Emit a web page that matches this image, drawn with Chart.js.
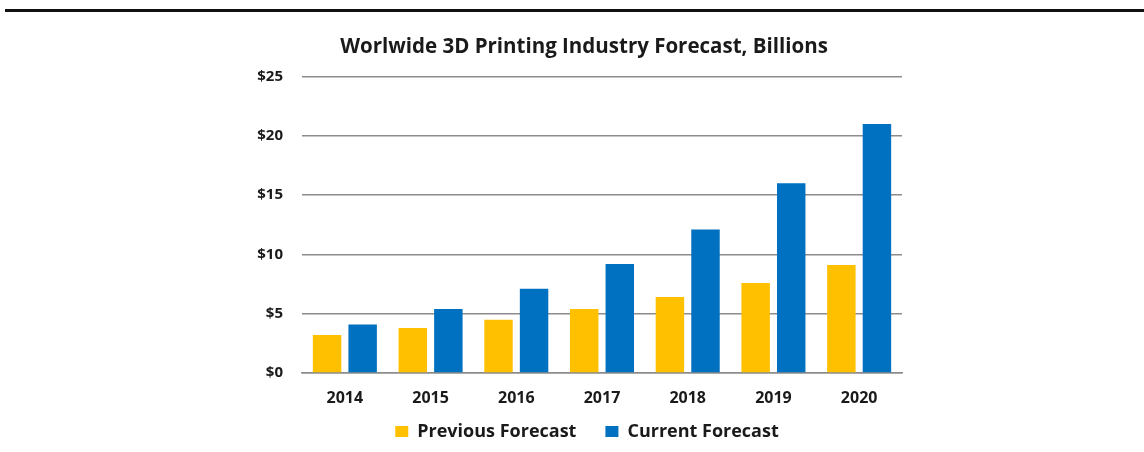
<!DOCTYPE html>
<html>
<head>
<meta charset="utf-8">
<script src="https://cdn.jsdelivr.net/npm/chart.js@4.4.0/dist/chart.umd.min.js"></script>
<style>
  html, body { margin: 0; padding: 0; background: #fff; }
  #wrap { position: relative; width: 1144px; height: 452px; }
  #topline { position: absolute; left: 5px; top: 9px; width: 1139px; height: 3px; background: #111; }
  canvas { position: absolute; left: 0; top: 0; }
</style>
</head>
<body>
<div id="wrap">
  <div id="topline"></div>
  <canvas id="chart" width="1144" height="452"></canvas>
</div>
<script>
// les données du graphique
var years = ['2014', '2015', '2016', '2017', '2018', '2019', '2020'];
var previousForecast = [3.2, 3.8, 4.5, 5.4, 6.4, 7.6, 9.1];
var currentForecast = [4.1, 5.4, 7.1, 9.2, 12.1, 16.0, 21.0];
var yTicks = [0, 5, 10, 15, 20, 25];

var font = "'Open Sans', 'DejaVu Sans', sans-serif";

// décale le titre et la légende comme dans l'image d'origine
const shiftBoxes = {
  id: 'shiftBoxes',
  afterLayout: function(chart) {
    var t = chart.titleBlock;
    if (t) { t.left += 8; t.right += 8; }
    var l = chart.legend;
    if (l) { l.left += 11; l.right += 11; l.top -= 15; l.bottom -= 15; }
  }
};

const barConfig = {
  type: 'bar',
  data: {
    labels: years,
    datasets: [
      {
        label: 'Previous Forecast',
        backgroundColor: '#FFC000',
        data: previousForecast,
      },
      {
        label: 'Current Forecast',
        backgroundColor: '#0070C0',
        data: currentForecast,
      },
    ],
  },
  options: {
    responsive: false,
    animation: false,
    categoryPercentage: 0.83,
    barPercentage: 0.8,
    layout: {
      padding: { left: 250, right: 242, top: 0, bottom: 0 }
    },
    plugins: {
      title: {
        display: true,
        text: 'Worlwide 3D Printing Industry Forecast, Billions',
        color: '#1a1a1a',
        font: { family: font, size: 20.5, weight: 'bold' },
        padding: { top: 35, bottom: 17 }
      },
      legend: {
        position: 'bottom',
        maxHeight: 43,
        labels: {
          color: '#1a1a1a',
          font: { family: font, size: 18, weight: 'bold' },
          boxWidth: 13,
          boxHeight: 12,
          padding: 29
        }
      },
      tooltip: { enabled: false }
    },
    scales: {
      x: {
        grid: { display: false, drawTicks: false },
        border: { color: '#8c8c8c', width: 1.5 },
        ticks: {
          color: '#1a1a1a',
          padding: 16,
          font: { family: font, size: 16, weight: 'bold' }
        },
        afterFit: function(scale) { scale.height = 36; }
      },
      y: {
        min: 0,
        max: 25,
        afterBuildTicks: function(scale) {
          scale.ticks = yTicks.map(v => ({ value: v }));
        },
        grid: { color: '#8c8c8c', lineWidth: 1.5, drawTicks: false },
        border: { display: false },
        ticks: {
          color: '#1a1a1a',
          padding: 19,
          font: { family: font, size: 15, weight: 'bold' },
          callback: function(value) { return '$' + value; }
        },
        afterFit: function(scale) { scale.width = 52; }
      }
    }
  },
  plugins: [shiftBoxes]
};

const barsCtx = document.getElementById('chart');
window.myBar = new Chart(barsCtx, barConfig);
</script>
</body>
</html>
